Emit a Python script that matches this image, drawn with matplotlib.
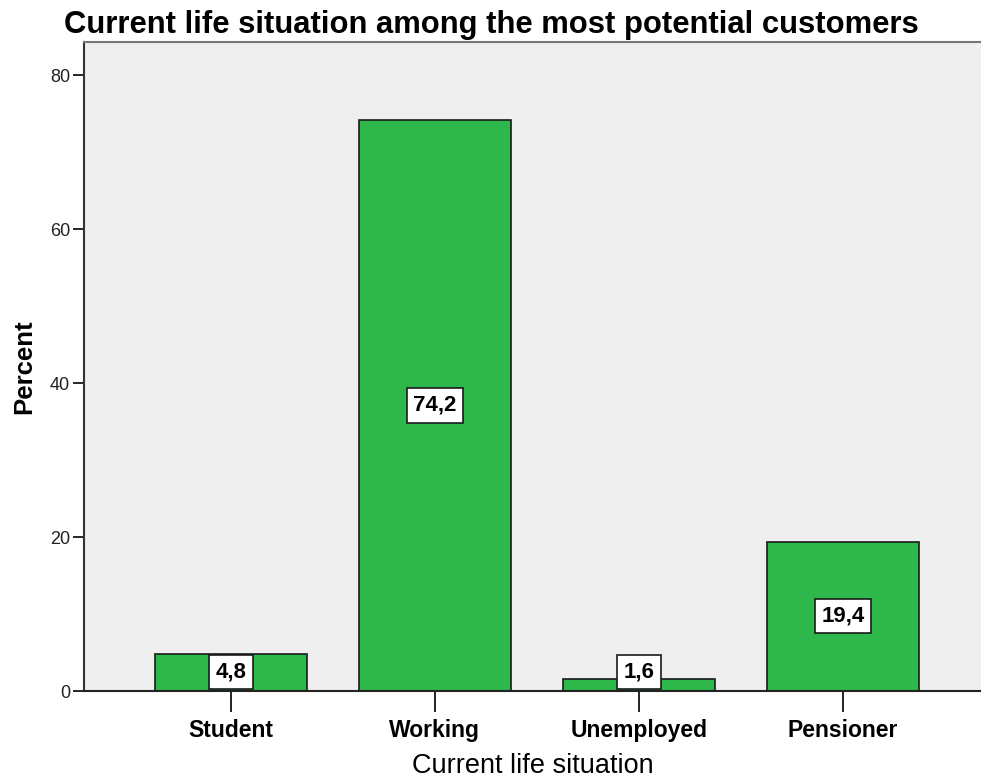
import matplotlib.pyplot as plt
import numpy as np

# Data
categories = ["Student", "Working", "Unemployed", "Pensioner"]
percent = [4.8, 74.2, 1.6, 19.4]
value_labels = ["4,8", "74,2", "1,6", "19,4"]
yticks = [0, 20, 40, 60, 80]

plt.rcParams["font.family"] = ["Liberation Sans", "DejaVu Sans"]

fig = plt.figure(figsize=(9.81, 7.78), dpi=100)
ax = fig.add_axes([84 / 981, 1 - 691 / 778, (981 - 84) / 981, (691 - 42) / 778])
ax.set_facecolor("#EFEFEF")

x = np.arange(len(categories))
ax.bar(x, percent, width=0.745, color="#2EB84B", edgecolor="#1a1a1a", linewidth=1.2, zorder=2)

# value labels in white boxes
for xi, v, lab in zip(x, percent, value_labels):
    ax.text(xi, max(v / 2, 2.45), lab, ha="center", va="center",
            fontsize=16, fontweight="bold", zorder=3,
            bbox=dict(boxstyle="square,pad=0.3", fc="white", ec="#1a1a1a", lw=1.2))

ax.set_xlim(-0.72, 3.676)
ax.set_ylim(0, 84.3)
ax.set_xticks(x)
ax.set_xticklabels(categories, fontsize=16.5, fontweight="bold")
ax.set_yticks(yticks)
ax.set_yticklabels([str(t) for t in yticks], fontsize=13, color="#222222")

ax.tick_params(axis="x", length=15, width=1.2, pad=5)
ax.tick_params(axis="y", length=8, width=1.2, pad=2)

ax.spines["right"].set_visible(False)
ax.spines["top"].set_color("#777777")
ax.spines["top"].set_linewidth(1.5)
ax.spines["left"].set_color("#333333")
ax.spines["left"].set_linewidth(1.5)
ax.spines["bottom"].set_color("#222222")
ax.spines["bottom"].set_linewidth(1.5)

ax.set_xlabel("Current life situation", fontsize=19.5, labelpad=8)
ax.set_ylabel("Percent", fontsize=18.5, fontweight="bold", labelpad=10)

fig.text(64 / 981, 1 - 25 / 778, "Current life situation among the most potential customers",
         fontsize=22.3, fontweight="bold", ha="left", va="center")

plt.savefig("out.png", dpi=100)
